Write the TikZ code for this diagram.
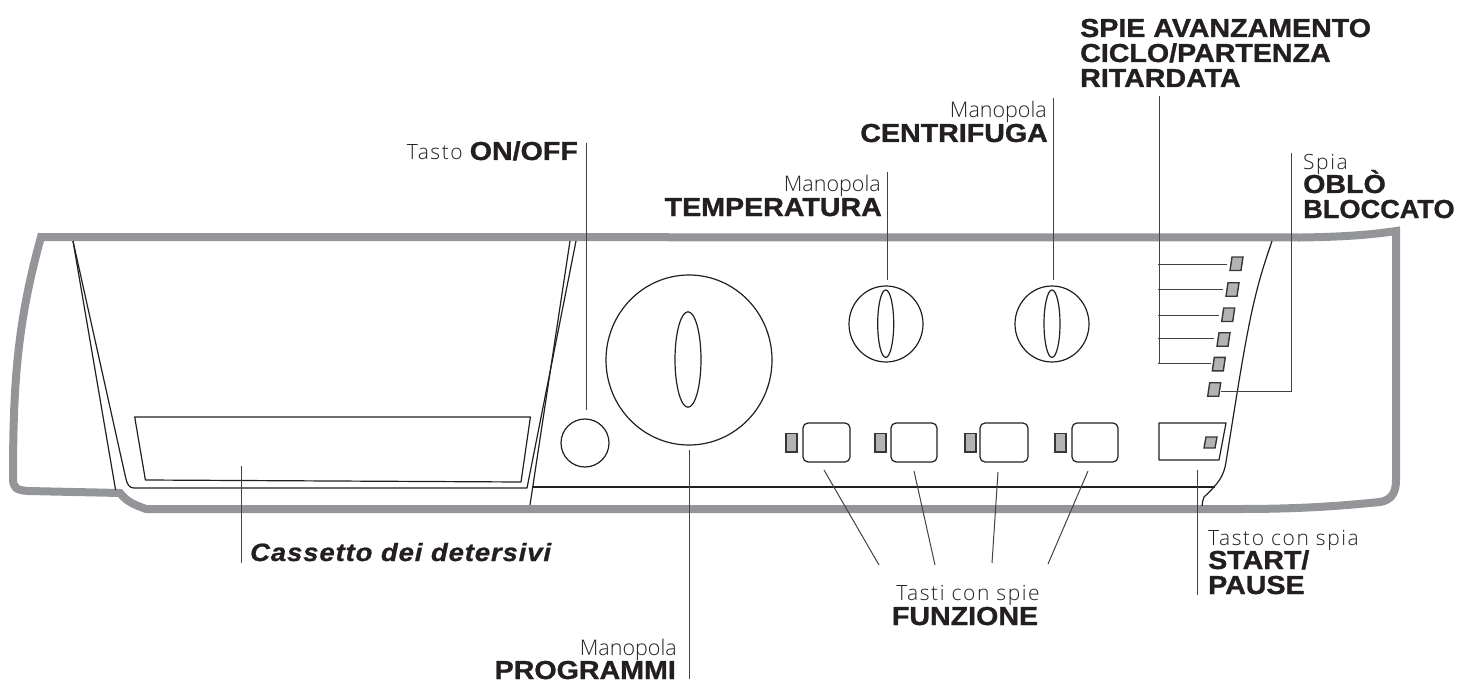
\documentclass[tikz,border=0pt]{standalone}
\usepackage{fontspec}
\usetikzlibrary{shapes.geometric}
\setmainfont{Liberation Sans}
\newfontfamily\heavybase[FakeStretch=1.10,BoldFeatures={FakeBold=1.1}]{Liberation Sans}
\newfontfamily\heavyitbase[FakeStretch=1.10,LetterSpace=3.5,BoldItalicFeatures={FakeBold=0.9}]{Liberation Sans}
\newcommand{\heavyfont}{\heavybase\bfseries}
\newcommand{\heavyit}{\heavyitbase\bfseries\itshape}
\newfontfamily\thinfont{Open Sans Light}
\newfontfamily\thinwide[LetterSpace=7.5]{Open Sans Light}
\definecolor{shell}{HTML}{939598}
\definecolor{ledgray}{HTML}{B3B3B3}
\definecolor{ink}{HTML}{231F20}
\tikzset{
  x=1pt,y=-1pt,
  shellline/.style={draw=shell,line width=8pt,line join=miter},
  thinline/.style={draw=ink,line width=1.2pt,line join=round},
  leader/.style={draw=ink!85,line width=1pt},
  led/.style={draw=ink!90,line width=1.4pt,fill=ledgray},
  lab/.style={inner sep=0pt,font=\thinfont\fontsize{21.5}{21.5}\selectfont,text=ink},
  labw/.style={inner sep=0pt,font=\thinwide\fontsize{21}{21}\selectfont,text=ink},
  big/.style={inner sep=0pt,font=\heavyfont\fontsize{26}{26}\selectfont,text=ink},
}
\begin{document}
\begin{tikzpicture}
\useasboundingbox (0,0) rectangle (1462,690);
% shell
\path[shellline] (41,237) -- (1300,237.5) .. controls (1340,237) and (1370,235) .. (1396,231)
  -- (1396,480) .. controls (1396,492) and (1392,500) .. (1380,502)
  .. controls (1340,506) and (1300,509) .. (1240,509) -- (146,509)
  .. controls (135,505) and (127,502) .. (120,493) -- (28,491)
  .. controls (16,490) and (13,488) .. (13,478) .. controls (13,380) and (18,320) .. (41,237) -- cycle;
% fascia lines
\path[thinline] (73,241) -- (115.6,490);
\path[thinline] (73,241) -- (125.5,477) .. controls (127,484) and (129,488) .. (134,488) -- (527,488) -- (576,241);
\path[thinline] (570,241) -- (530,505);
\path[thinline] (533,487) -- (1215,487);
\path[thinline] (1272,241) .. controls (1262,270) and (1258,285) .. (1254,302) .. controls (1245,340) and (1236,400) .. (1226,462)
  .. controls (1224,476) and (1218,484) .. (1204,497) .. controls (1203,500) and (1202,503) .. (1202,506);
% drawer
\path[thinline] (134.7,417) -- (530.4,417) -- (521,482) -- (145.4,480) -- cycle;
% controls
\node[circle,thinline,minimum size=48pt,inner sep=0pt] (onoff) at (585,443) {};
\node[ellipse,thinline,minimum width=166pt,minimum height=170pt,inner sep=0pt] (prog) at (689,360) {};
\node[ellipse,thinline,minimum width=26pt,minimum height=95.5pt,inner sep=0pt] (progk) at (688,359.5) {};
\node[ellipse,thinline,minimum width=74pt,minimum height=76pt,inner sep=0pt] (temp) at (886,324) {};
\node[ellipse,thinline,minimum width=16pt,minimum height=67.5pt,inner sep=0pt] (tempk) at (885.7,323.7) {};
\node[ellipse,thinline,minimum width=74pt,minimum height=76pt,inner sep=0pt] (spin) at (1052,324) {};
\node[ellipse,thinline,minimum width=16pt,minimum height=67.5pt,inner sep=0pt] (spink) at (1052,323.7) {};
% function buttons
\foreach \n/\a/\b/\la/\lb in {1/803/850/786/797,2/891/937/875/886,3/980/1028/965/976,4/1072/1118/1055/1066}{
  \path[thinline,rounded corners=5pt] (\a,423) rectangle (\b,462);
  \path[led] (\la,433.5) rectangle (\lb,452);
}
% start button
\path[thinline] (1159,423) -- (1226,423) -- (1219,460) -- (1159,460) -- cycle;
\path[led] (1206,437) -- (1217,437) -- (1215,448) -- (1204,448) -- cycle;
% column leds
\foreach \x/\y in {1232/257,1228/282.7,1223.7/308,1219/332.7,1214.3/357.3,1209.7/382.7}{
  \path[led] (\x,\y) -- (\x+11,\y) -- (\x+9,\y+13.5) -- (\x-2,\y+13.5) -- cycle;
}
% leader anchors
\coordinate (lOn) at (586,143);
\coordinate (lOnE) at (586,410);
\coordinate (lCas) at (241,466);
\coordinate (lCasE) at (241,563);
\coordinate (lPro) at (689,450);
\coordinate (lProE) at (689,679);
\coordinate (lTe) at (887,172);
\coordinate (lTeE) at (887,280);
\coordinate (lCe) at (1053,98);
\coordinate (lCeE) at (1053,280);
\coordinate (lSpie) at (1159,96);
\coordinate (lSpieE) at (1159,363);
\coordinate (lOb) at (1291,153);
\coordinate (lObM) at (1291,391);
\coordinate (lObE) at (1221,391);
\coordinate (lSt) at (1197,470);
\coordinate (lStE) at (1197,595);
\draw[leader] (lOn) -- (lOnE);
\draw[leader] (lCas) -- (lCasE);
\draw[leader] (lPro) -- (lProE);
\draw[leader] (lTe) -- (lTeE);
\draw[leader] (lCe) -- (lCeE);
\draw[leader] (lSpie) -- (lSpieE);
\draw[leader] (lOb) -- (lObM) -- (lObE);
\draw[leader] (lSt) -- (lStE);
\foreach \n/\xe/\y in {a/1227/264,b/1223/289,c/1219/315,d/1214/338,e/1211/363}{
  \coordinate (s\n) at (1158,\y);
  \coordinate (t\n) at (\xe,\y);
  \draw[leader] (s\n) -- (t\n);
}
\foreach \n/\xa/\ya/\xb/\yb in {1/824/470/879/565,2/914/471/935/565,3/998/472/992/563,4/1088/471/1048/564}{
  \coordinate (fa\n) at (\xa,\ya);
  \coordinate (fb\n) at (\xb,\yb);
  \draw[leader] (fa\n) -- (fb\n);
}
% labels
\node[labw,anchor=base east] (tOn) at (578,160) {Tasto {\heavyfont\fontsize{26}{26}\selectfont ON/OFF}};
\node[lab,anchor=base east] (tT1) at (881,191) {Manopola};
\node[big,anchor=base east] (tT2) at (882,216) {TEMPERATURA};
\node[lab,anchor=base east] (tC1) at (1047,118) {Manopola};
\node[big,anchor=base east] (tC2) at (1048,142) {CENTRIFUGA};
\node[big,anchor=base west] (tS1) at (1080,37) {SPIE AVANZAMENTO};
\node[big,anchor=base west] (tS2) at (1080,62) {CICLO/PARTENZA};
\node[big,anchor=base west] (tS3) at (1080,87) {RITARDATA};
\node[labw,anchor=base west] (tO1) at (1303,169) {Spia};
\node[big,anchor=base west] (tO2) at (1303,193) {OBLÒ};
\node[big,anchor=base west] (tO3) at (1303,218) {\scalebox{0.95}[1]{BLOCCATO}};
\node[inner sep=0pt,anchor=base west,font=\heavyit\fontsize{25}{25}\selectfont,text=ink] (tCa) at (250,561) {Cassetto dei detersivi};
\node[labw,anchor=base] (tF1) at (968,600) {Tasti con spie};
\node[big,anchor=base] (tF2) at (965,625) {FUNZIONE};
\node[labw,anchor=base west] (tB1) at (1208,545) {Tasto con spia};
\node[big,anchor=base west] (tB2) at (1208,569) {START/};
\node[big,anchor=base west] (tB3) at (1208,594) {PAUSE};
\node[lab,anchor=base east] (tP1) at (677,655) {Manopola};
\node[big,anchor=base east] (tP2) at (676,679) {PROGRAMMI};
\end{tikzpicture}
\end{document}
